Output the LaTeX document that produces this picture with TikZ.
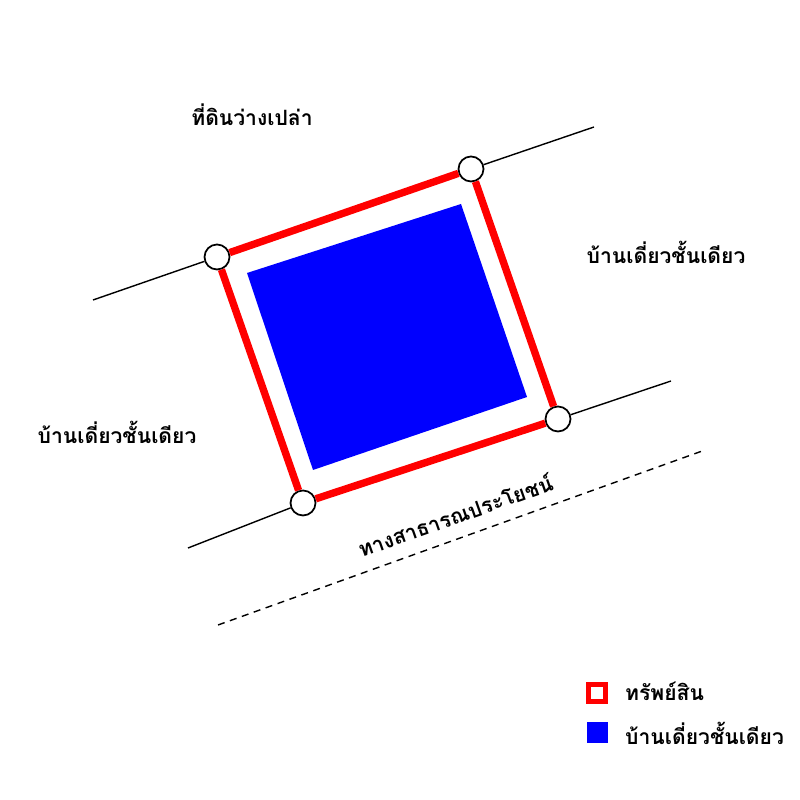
\documentclass[tikz,border=0pt]{standalone}
\usepackage{fontspec}
\usepackage{xcolor}
\usepackage{tikz}
\usetikzlibrary{positioning}
\newfontfamily\thaifont[Script=Thai]{Loma}
\definecolor{plotred}{HTML}{FF0000}
\definecolor{housefill}{HTML}{0000FF}

\begin{document}
\begin{tikzpicture}[
        corner/.style={
            circle,
            draw=black,
            fill=white,
            line width=0.5pt,
            minimum size=0.25cm,
            inner sep=0pt
        },
        thlabel/.style={
            draw=none,
            fill=none,
            text=black,
            font=\thaifont\bfseries\fontsize{6}{7}\selectfont,
            inner sep=1pt
        },
        boundary/.style={
            line width=0.4pt,
            color=black
        },
        plot/.style={
            line width=2.1pt,
            color=plotred
        }
    ]
        \useasboundingbox (0,0) rectangle (8,8);

        % House footprint
        \fill[housefill] (2.47,5.27) -- (4.61,5.96) -- (5.27,4.03) -- (3.13,3.30) -- cycle;

        % Corner markers
        \node[corner] (pa) at (2.17,5.43) {};
        \node[corner] (pb) at (4.71,6.31) {};
        \node[corner] (pc) at (5.58,3.81) {};
        \node[corner] (pd) at (3.03,2.97) {};

        % Property outline
        \draw[plot] (pa) -- (pb);
        \draw[plot] (pb) -- (pc);
        \draw[plot] (pc) -- (pd);
        \draw[plot] (pd) -- (pa);

        % Boundary lines
        \coordinate (ul) at (0.93,5.00);
        \coordinate (ur) at (5.94,6.73);
        \coordinate (ll) at (1.88,2.52);
        \coordinate (lr) at (6.71,4.19);
        \draw[boundary] (ul) -- (pa);
        \draw[boundary] (pb) -- (ur);
        \draw[boundary] (ll) -- (pd);
        \draw[boundary] (pc) -- (lr);

        % Road
        \coordinate (rl) at (2.18,1.75);
        \coordinate (rr) at (7.05,3.50);
        \draw[boundary, dash pattern=on 2pt off 1.6pt] (rl) -- (rr);
        \node[thlabel, rotate=19.5] (road) at (4.55,2.85) {ทางสาธารณประโยชน์};

        % Neighbours
        \node[thlabel] (empty) at (2.52,6.85) {ที่ดินว่างเปล่า};
        \node[thlabel] (east) at (6.66,5.48) {บ้านเดี่ยวชั้นเดียว};
        \node[thlabel] (west) at (1.17,3.68) {บ้านเดี่ยวชั้นเดียว};

        % Legend
        \node[draw=plotred, line width=1.3pt, fill=white, minimum size=0.17cm, inner sep=0pt] (kp) at (5.97,1.07) {};
        \node[fill=housefill, minimum size=0.21cm, inner sep=0pt] (kh) at (5.97,0.67) {};
        \node[thlabel, anchor=west] (kpl) at (6.21,1.09) {ทรัพย์สิน};
        \node[thlabel, anchor=west] (khl) at (6.21,0.67) {บ้านเดี่ยวชั้นเดียว};
    \end{tikzpicture}
\end{document}
